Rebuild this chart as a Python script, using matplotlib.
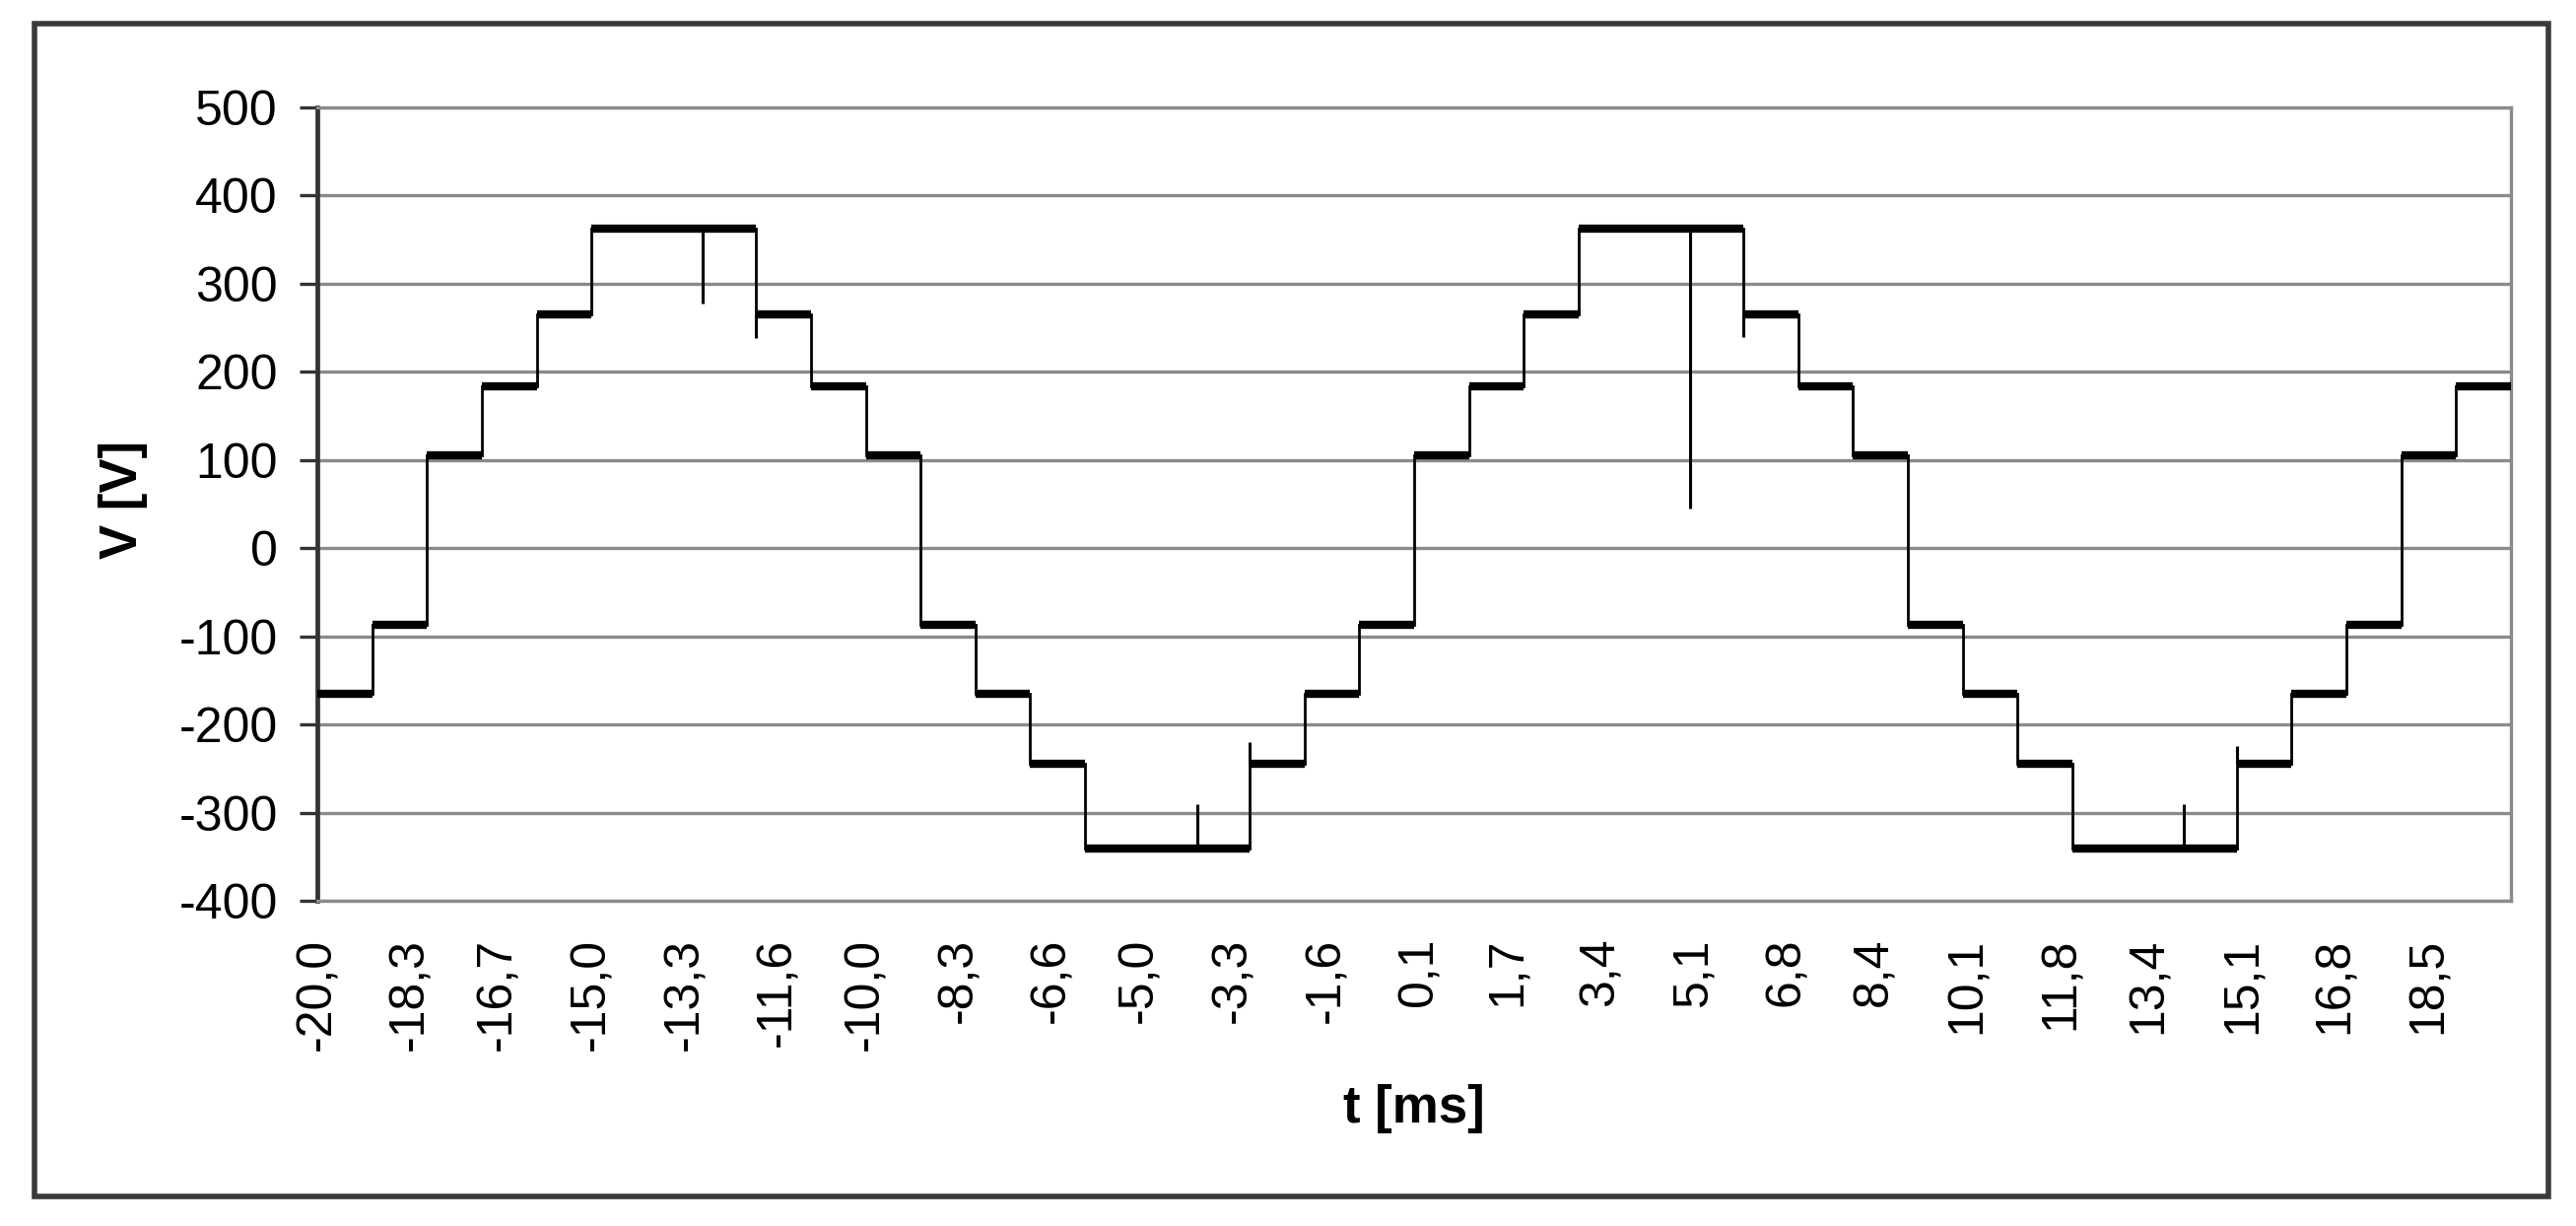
import numpy as np
import matplotlib
matplotlib.use("Agg")
import matplotlib.pyplot as plt
from matplotlib.patches import Rectangle

plt.rcParams['font.family'] = ['Liberation Sans', 'DejaVu Sans']
plt.rcParams['axes.unicode_minus'] = False

# ---------------- data ----------------
# switching instants of the staircase voltage [ms]
edge_times = [-20.0, -19.0, -18.0, -17.0, -16.0, -15.0, -12.0, -11.0, -10.0,
              -9.0, -8.0, -7.0, -6.0, -3.0, -2.0, -1.0, 0.0, 1.0, 2.0, 3.0,
              6.0, 7.0, 8.0, 9.0, 10.0, 11.0, 12.0, 15.0, 16.0, 17.0, 18.0,
              19.0, 20.0]
# voltage level held between consecutive switching instants [V]
levels = [-165, -87, 105, 184, 265, 363, 265, 184, 105, -87, -165, -245,
          -341, -245, -165, -87, 105, 184, 265, 363, 265, 184, 105, -87,
          -165, -245, -341, -245, -165, -87, 105, 184]
# short transients (time [ms], start level [V], peak [V])
spike_times = [-12.97, -12.0, -3.95, -3.0, 5.03, 6.0, 14.03, 15.0]
spike_from = [363, 265, -341, -245, 363, 265, -341, -245]
spike_to = [278, 238, -290, -220, 45, 240, -290, -225]

xtick_values = [-20.0, -18.3, -16.7, -15.0, -13.3, -11.6, -10.0, -8.3, -6.6,
                -5.0, -3.3, -1.6, 0.1, 1.7, 3.4, 5.1, 6.8, 8.4, 10.1, 11.8,
                13.4, 15.1, 16.8, 18.5]
xtick_labels = ['-20,0', '-18,3', '-16,7', '-15,0', '-13,3', '-11,6', '-10,0',
                '-8,3', '-6,6', '-5,0', '-3,3', '-1,6', '0,1', '1,7', '3,4',
                '5,1', '6,8', '8,4', '10,1', '11,8', '13,4', '15,1', '16,8',
                '18,5']
ytick_values = [500, 400, 300, 200, 100, 0, -100, -200, -300, -400]
ytick_labels = ['500', '400', '300', '200', '100', '0', '-100', '-200',
                '-300', '-400']

# ---------------- figure ----------------
W, H = 2614, 1244
fig = plt.figure(figsize=(W / 100, H / 100), dpi=100)
fig.patch.set_facecolor('white')

# outer chart frame
fig.patches.append(Rectangle((35 / W, 1 - 1214 / H), (2586 - 35) / W,
                             (1214 - 24) / H, transform=fig.transFigure,
                             fill=False, ec='#3a3a3a', lw=4, zorder=0))

ax = fig.add_axes([322 / W, 1 - 914 / H, 2226 / W, 805 / H])

# step waveform
t_edges = np.array(edge_times)
v_lv = np.array(levels)
xs = np.repeat(t_edges, 2)[1:-1]
ys = np.repeat(v_lv, 2)
ax.plot(xs, ys, color='black', lw=2.0, zorder=3, solid_joinstyle='miter')
# plateaus (noisy band look)
ax.hlines(v_lv, t_edges[:-1], t_edges[1:], colors='black', lw=6.0,
          zorder=3, capstyle='butt')
# transients
ax.vlines(spike_times, spike_from, spike_to, colors='black', lw=2.2, zorder=3)

ax.set_xlim(-20.0, 20.0)
ax.set_ylim(-400, 500)

ax.set_yticks(ytick_values)
ax.set_yticklabels(ytick_labels)
ax.set_xticks(xtick_values)
ax.set_xticklabels(xtick_labels, rotation=90, va='top', ha='center')

ax.yaxis.grid(True, color='#8a8a8a', lw=2.4, zorder=1)
ax.xaxis.grid(False)
ax.set_axisbelow(True)

ax.tick_params(axis='y', direction='out', length=13, width=2.4,
               color='#333333', labelsize=36, pad=16, labelcolor='black')
ax.tick_params(axis='x', length=0, labelsize=36, pad=27, labelcolor='black')

for side in ['top', 'right', 'bottom']:
    ax.spines[side].set_color('#8a8a8a')
    ax.spines[side].set_linewidth(2.4)
ax.spines['left'].set_color('#333333')
ax.spines['left'].set_linewidth(3.4)

ax.set_xlabel('t [ms]', fontsize=38, fontweight='bold', va='center')
ax.xaxis.set_label_coords(0.5, -(1125 - 914) / 805)
ax.set_ylabel('V [V]', fontsize=38, fontweight='bold', va='center')
ax.yaxis.set_label_coords(-(322 - 125) / 2226, (914 - 507) / 805)

fig.savefig('out.png', dpi=100, facecolor='white')
